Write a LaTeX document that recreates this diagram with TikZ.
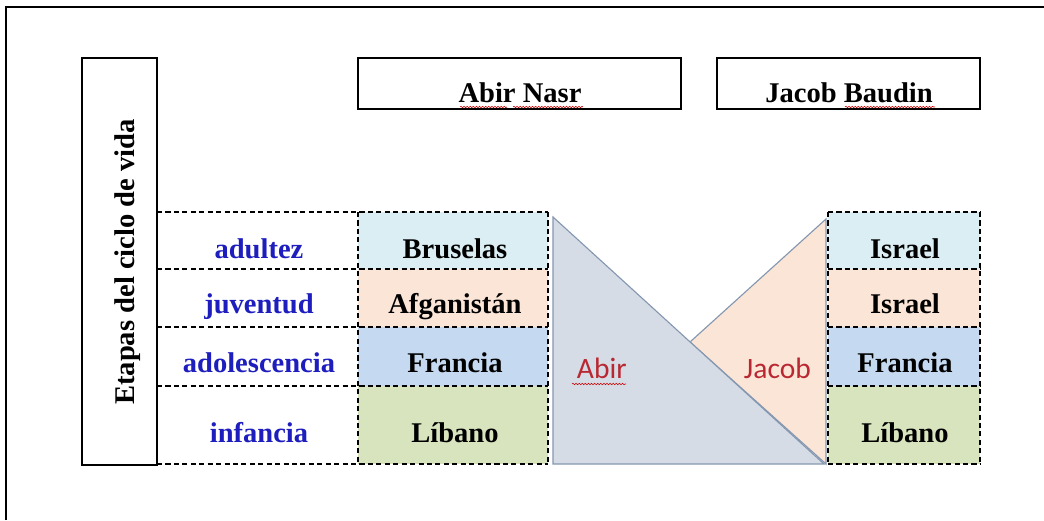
\documentclass[tikz,border=0pt]{standalone}
\usepackage{fontspec}
\setmainfont{Liberation Serif}
\newfontfamily\calfont{Carlito}
\usepackage{tikz}
\usetikzlibrary{decorations.pathmorphing}
\definecolor{etapa}{RGB}{30,30,190}
\definecolor{nombre}{RGB}{185,40,50}
\definecolor{cellA}{RGB}{218,238,243}
\definecolor{cellB}{RGB}{251,229,214}
\definecolor{cellC}{RGB}{197,217,241}
\definecolor{cellD}{RGB}{215,228,189}
\definecolor{abirfill}{RGB}{214,220,229}
\definecolor{edge}{RGB}{132,151,176}

\begin{document}
\begin{tikzpicture}[x=0.025cm, y=-0.025cm,
        big/.style={font=\fontsize{20.3}{24}\selectfont\bfseries},
        stage/.style={big, text=etapa, anchor=base},
        place/.style={big, anchor=base},
        person/.style={font=\calfont\fontsize{21}{24}\selectfont, text=nombre, anchor=base west},
        grid/.style={dash pattern=on 3.6pt off 2.4pt, line width=0.9pt},
        frame/.style={line width=1pt},
        squiggle/.style={red!80!black, line width=0.4pt, decorate,
            decoration={snake, amplitude=0.5pt, segment length=2.2pt}}]
        \useasboundingbox (0,0) rectangle (1044,520);
        \draw [frame] (6,520) -- (6,7) -- (1044,7);

        % header boxes
        \draw [frame] (82,58) rectangle (157,465);
        \node[big, rotate=90, anchor=base] at (134,262) (etapas) {Etapas del ciclo de vida};
        \draw [frame] (358,58) rectangle (681,109);
        \node[place] at (520,102) (abirhead) {Abir Nasr};
        \draw [frame] (717,58) rectangle (980,109);
        \node[place] at (849,102) (jacobhead) {Jacob Baudin};

        % rows
        \foreach \i/\ya/\yb/\yt/\stg/\lft/\rgt/\col in {
            1/212/269/258/adultez/Bruselas/Israel/cellA,
            2/269/327/313/juventud/Afganistán/Israel/cellB,
            3/327/386/372/adolescencia/Francia/Francia/cellC,
            4/386/464/442/infancia/Líbano/Líbano/cellD}{
            \fill [\col] (358,\ya) rectangle (548,\yb);
            \fill [\col] (828,\ya) rectangle (980,\yb);
            \node[stage] at (259,\yt) (stage\i) {\stg};
            \node[place] at (455,\yt) (left\i) {\lft};
            \node[place] at (905,\yt) (right\i) {\rgt};
        }
        \foreach \y in {212,269,327,386,464}{
            \draw [grid] (157,\y) -- (548,\y);
            \draw [grid] (828,\y) -- (980,\y);
        }
        \foreach \x in {358,548,828,980}
            \draw [grid] (\x,212) -- (\x,464);

        % triangles
        \filldraw [fill=cellB, draw=edge, line width=0.8pt] (690,342) -- (826,219) -- (826,464) -- cycle;
        \filldraw [fill=abirfill, draw=edge, line width=0.8pt] (553,217) -- (553,464) -- (824,464) -- cycle;
        \node[person] at (572,378) (abir) {Abir};
        \node[person] at (739,378) (jacob) {Jacob};

        % spell marks
        \draw [squiggle] (460,107) -- (507,107);
        \draw [squiggle] (513,107) -- (583,107);
        \draw [squiggle] (845,107) -- (935,107);
        \draw [squiggle] (572,384) -- (626,384);
\end{tikzpicture}
\end{document}
